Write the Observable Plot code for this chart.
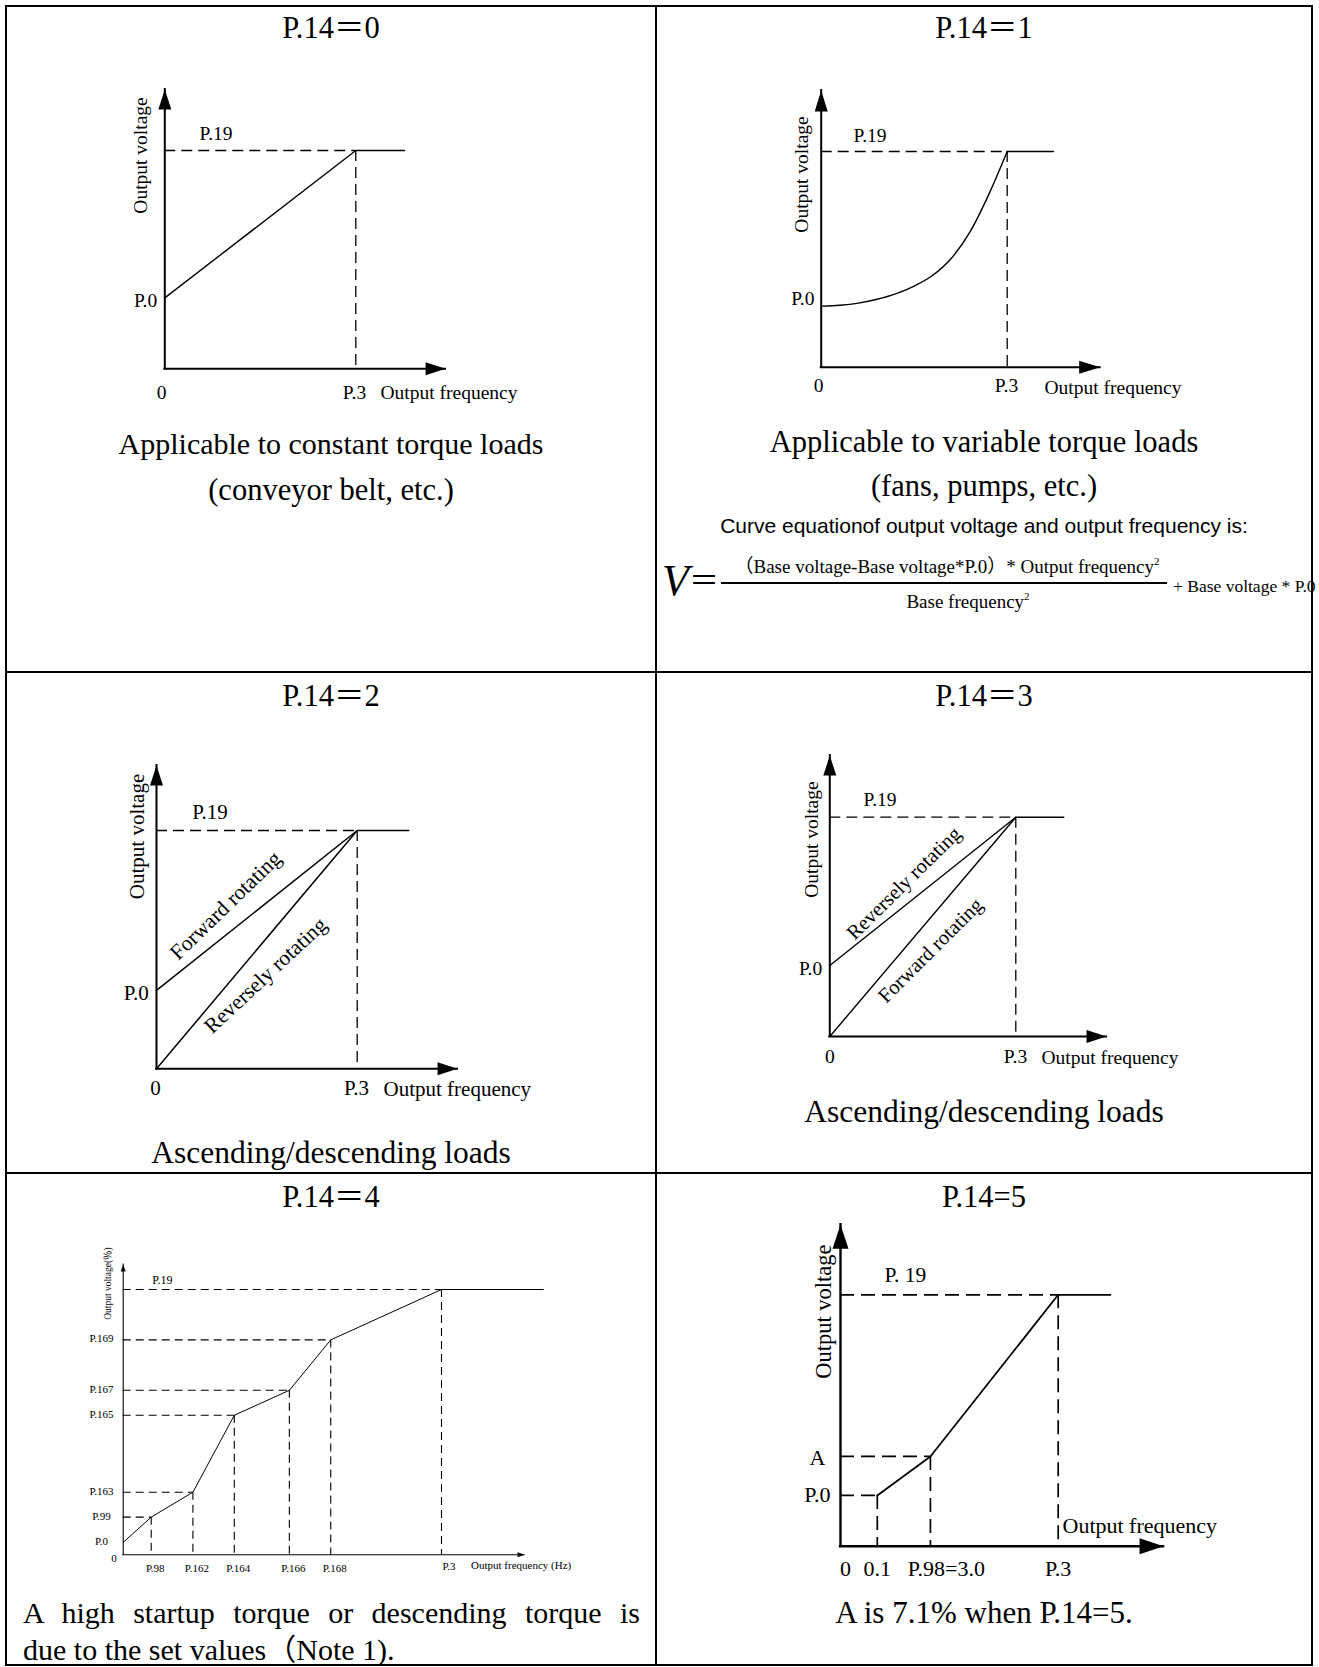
<!DOCTYPE html>
<html>
<head>
<meta charset="utf-8">
<script src="https://cdn.jsdelivr.net/npm/d3@7"></script>
<script src="https://cdn.jsdelivr.net/npm/@observablehq/plot@0.6"></script>
<style>
html, body { margin: 0; padding: 0; background: #fff; overflow: hidden; }
#page { position: relative; width: 1319px; height: 1667px; color: #000; overflow: hidden; }
.t { position: absolute; white-space: nowrap; line-height: 1.2; }
.rule { position: absolute; background: #000; }
</style>
</head>
<body>
<div id="page"></div>
<script>
// ================= DATA =================
const panelTitles = ["P.14＝0", "P.14＝1", "P.14＝2", "P.14＝3", "P.14＝4", "P.14=5"];
const captionConst = ["Applicable to constant torque loads", "(conveyor belt, etc.)"];
const captionSquare = ["Applicable to variable torque loads", "(fans, pumps, etc.)"];
const equationIntro = "Curve equationof output voltage and output frequency is:";
const equationParts = ["V", "＝", "（Base voltage-Base voltage*P.0）* Output frequency", "Base frequency", "+ Base voltage * P.0", "2"];
const captionLift = "Ascending/descending loads";
const captionMulti = ["A high startup torque or descending torque is", "due to the set values（Note 1)."];
const captionStart = "A is 7.1% when P.14=5.";

const axisNames = ["Output voltage", "Output frequency"];
const axisNamesMulti = ["Output voltage(％)", "Output frequency (Hz)"];
const originLabel = "0";
const baseFreqLabel = "P.3";
const baseVoltLabel = "P.19";
const startVoltLabel = "P.0";

// P.14=0  (frequency: P.3 = 100, voltage: P.19 = 100)
const constFreq = [0, 100, 125.5];
const constVolt = [32.5, 100, 100];
// P.14=1
const squareFreq = [0, 10, 20, 30, 40, 50, 60, 70, 80, 90, 100];
const squareVolt = [28.3, 28.7, 29.7, 31.5, 34.0, 37.6, 42.6, 50.5, 62.7, 79.9, 100];
const squareTopFreq = [100, 124.9];
const squareTopVolt = [100, 100];
// P.14=2
const liftFreq = [0, 100, 125.7];
const liftForwardVolt = [32.9, 100, 100];
const liftReverseVolt = [0, 100, 100];
const liftNotes = ["Forward rotating", "Reversely rotating"];
const liftNoteFreq = [34.4, 54.3];
const liftNoteVolt = [68.5, 39.2];
// P.14=3
const dropFreq = [0, 100, 125.8];
const dropReverseVolt = [32.4, 100, 100];
const dropForwardVolt = [0, 100, 100];
const dropNotes = ["Reversely rotating", "Forward rotating"];
const dropNoteFreq = [39.8, 54.1];
const dropNoteVolt = [69.9, 39.2];
// P.14=4
const multiFreq = [0, 8.8, 21.9, 34.9, 52.2, 65.2, 100, 132];
const multiVolt = [4.7, 14.2, 23.6, 52.6, 62.0, 81.0, 100, 100];
const multiFreqLabels = ["", "P.98", "P.162", "P.164", "P.166", "P.168", "P.3", ""];
const multiVoltLabels = ["P.0", "P.99", "P.163", "P.165", "P.167", "P.169", "P.19", ""];
// P.14=5
const startFreq = [16.9, 41.3, 100, 124];
const startVolt = [20.2, 35.7, 100, 100];
const startFreqLabels = ["0.1", "P.98=3.0", "P.3", ""];
const startVoltLabels = ["P.0", "A", "P. 19", ""];
// axis arrow extents per panel (data units)
const axisFreqMax = [147, 150, 150, 148.8, 126.1, 148.4];
const axisVoltMax = [128, 128.3, 127.3, 128.1, 109.4, 127.9];

// ================= LAYOUT / STYLE =================
const SERIF = '"Liberation Serif","Times New Roman","Noto Sans CJK SC",serif';
const SANS = '"Liberation Sans",Arial,sans-serif';
const LAYOUT = [
  {cell: [6, 6, 650, 666], origin: [164.3, 368.3], unit: [1.91, 2.183], axisW: 2, arrow: [20, 13], lineW: 1.4, dashW: 1.3, dash: "11,6", font: 19.5},
  {cell: [656, 6, 656, 666], origin: [820.7, 366.7], unit: [1.86, 2.157], axisW: 2, arrow: [21, 13], lineW: 1.4, dashW: 1.3, dash: "11,6", font: 19.5},
  {cell: [6, 672, 650, 501], origin: [156, 1068.3], unit: [2.007, 2.383], axisW: 2, arrow: [20, 13], lineW: 1.5, dashW: 1.3, dash: "11,6", font: 21},
  {cell: [656, 672, 656, 501], origin: [829.3, 1036], unit: [1.86, 2.193], axisW: 2, arrow: [20, 13], lineW: 1.4, dashW: 1.3, dash: "11,6", font: 19.5},
  {cell: [6, 1173, 650, 492], origin: [122.7, 1554.3], unit: [3.183, 2.653], axisW: 1.1, arrow: [7, 5], lineW: 1, dashW: 1.1, dash: "8,5", font: 11},
  {cell: [656, 1173, 656, 492], origin: [840, 1545.7], unit: [2.177, 2.514], axisW: 2.4, arrow: [24, 16], lineW: 1.8, dashW: 1.7, dash: "14,7", font: 22}
];
const titleY = [28.5, 28.5, 696.5, 696.5, 1197, 1197];

const page = document.getElementById("page");

// ================= helpers =================
const upArrow = (L, W) => ({draw(ctx) { ctx.moveTo(0, 0); ctx.lineTo(W / 2, L); ctx.lineTo(-W / 2, L); ctx.closePath(); }});
const rightArrow = (L, W) => ({draw(ctx) { ctx.moveTo(0, 0); ctx.lineTo(-L, W / 2); ctx.lineTo(-L, -W / 2); ctx.closePath(); }});
const pts = (F, V) => F.map((f, k) => ({f, v: V[k]}));

function axes(i) {
  const S = LAYOUT[i], fM = axisFreqMax[i], vM = axisVoltMax[i];
  return [
    Plot.ruleX([0], {y1: 0, y2: vM, stroke: "#000", strokeWidth: S.axisW, strokeLinecap: "square"}),
    Plot.ruleY([0], {x1: 0, x2: fM, stroke: "#000", strokeWidth: S.axisW, strokeLinecap: "square"}),
    Plot.dot([{f: 0, v: vM}], {x: "f", y: "v", r: 4, symbol: upArrow(S.arrow[0], S.arrow[1]), fill: "#000", stroke: "none"}),
    Plot.dot([{f: fM, v: 0}], {x: "f", y: "v", r: 4, symbol: rightArrow(S.arrow[0], S.arrow[1]), fill: "#000", stroke: "none"})
  ];
}
function solid(i, data, extra = {}) {
  return Plot.line(data, {x: "f", y: "v", stroke: "#000", strokeWidth: LAYOUT[i].lineW, ...extra});
}
function dashed(i, data) {
  const S = LAYOUT[i];
  return [
    Plot.ruleY(data, {y: "v", x1: 0, x2: "f", stroke: "#000", strokeWidth: S.dashW, strokeDasharray: S.dash}),
    Plot.ruleX(data, {x: "f", y1: "v", y2: 0, stroke: "#000", strokeWidth: S.dashW, strokeDasharray: S.dash})
  ];
}
function txt(i, text, f, v, o = {}) {
  return Plot.text([{f, v, t: text}], {x: "f", y: "v", text: "t", fill: "#000", fontFamily: SERIF, fontSize: LAYOUT[i].font, ...o});
}
function chart(i, marks) {
  const S = LAYOUT[i];
  const [cx, cy, cw, ch] = S.cell;
  const x0 = S.origin[0] - cx, y0 = S.origin[1] - cy;
  const fM = axisFreqMax[i], vM = axisVoltMax[i];
  const svg = Plot.plot({
    width: cw, height: ch,
    x: {type: "linear", domain: [0, fM], range: [x0, x0 + S.unit[0] * fM], axis: null},
    y: {type: "linear", domain: [0, vM], range: [y0, y0 - S.unit[1] * vM], axis: null},
    style: {background: "transparent", overflow: "visible"},
    marks: [...axes(i), ...marks]
  });
  svg.style.position = "absolute";
  svg.style.left = cx + "px";
  svg.style.top = cy + "px";
  page.appendChild(svg);
}
function html(content, {center, left, yc, size, sans = false, width, justify = false, lh = 1.2}) {
  const d = document.createElement("div");
  d.className = "t";
  d.style.fontFamily = sans ? SANS : SERIF;
  d.style.fontSize = size + "px";
  d.style.lineHeight = String(lh);
  const asc = sans ? 0.905 : 0.891, desc = sans ? 0.212 : 0.216, cap = sans ? 0.358 : 0.331;
  const k = (lh - asc - desc) / 2 + asc - cap;
  d.style.top = (yc - k * size) + "px";
  if (center != null) { d.style.left = (center - 600) + "px"; d.style.width = "1200px"; d.style.textAlign = "center"; }
  else { d.style.left = left + "px"; if (width) d.style.width = width + "px"; }
  if (justify) { d.style.whiteSpace = "normal"; d.style.textAlign = "justify"; d.style.textAlignLast = "justify"; }
  d.innerHTML = content;
  page.appendChild(d);
}
function rule(l, t, w, h) {
  const d = document.createElement("div");
  d.className = "rule";
  Object.assign(d.style, {left: l + "px", top: t + "px", width: w + "px", height: h + "px"});
  page.appendChild(d);
}

// ================= PANEL 0 : P.14=0 =================
{
  const i = 0, line = pts(constFreq, constVolt), top = line[1];
  chart(i, [
    ...dashed(i, [top]),
    solid(i, line),
    txt(i, baseVoltLabel, 0, top.v, {textAnchor: "start", dx: 34.7, dy: -16.7}),
    txt(i, startVoltLabel, 0, constVolt[0], {textAnchor: "end", dx: -7.6, dy: 2.6}),
    txt(i, originLabel, 0, 0, {dx: -3.3, dy: 23.5}),
    txt(i, baseFreqLabel, top.f, 0, {dx: -1.3, dy: 23.5}),
    txt(i, axisNames[1], top.f, 0, {textAnchor: "start", dx: 24.7, dy: 23.5}),
    txt(i, axisNames[0], 0, axisVoltMax[i], {rotate: -90, dx: -23.6, dy: 66.1})
  ]);
}
// ================= PANEL 1 : P.14=1 =================
{
  const i = 1, curve = pts(squareFreq, squareVolt), flat = pts(squareTopFreq, squareTopVolt), top = flat[0];
  chart(i, [
    ...dashed(i, [top]),
    solid(i, curve, {curve: "monotone-x"}),
    solid(i, flat),
    txt(i, baseVoltLabel, 0, top.v, {textAnchor: "start", dx: 32.3, dy: -16}),
    txt(i, startVoltLabel, 0, squareVolt[0], {textAnchor: "end", dx: -6.7, dy: -7.7}),
    txt(i, originLabel, 0, 0, {dx: -2.7, dy: 18.3}),
    txt(i, baseFreqLabel, top.f, 0, {dx: -0.7, dy: 18.3}),
    txt(i, axisNames[1], top.f, 0, {textAnchor: "start", dx: 37.3, dy: 20.3}),
    txt(i, axisNames[0], 0, axisVoltMax[i], {rotate: -90, dx: -19, dy: 84})
  ]);
}
// ================= PANEL 2 : P.14=2 =================
{
  const i = 2, fwd = pts(liftFreq, liftForwardVolt), rev = pts(liftFreq.slice(0, 2), liftReverseVolt.slice(0, 2)), top = fwd[1];
  chart(i, [
    ...dashed(i, [top]),
    solid(i, fwd),
    solid(i, rev),
    txt(i, liftNotes[0], liftNoteFreq[0], liftNoteVolt[0], {rotate: -44, fontSize: 21.5}),
    txt(i, liftNotes[1], liftNoteFreq[1], liftNoteVolt[1], {rotate: -43, fontSize: 21.5}),
    txt(i, baseVoltLabel, 0, top.v, {textAnchor: "start", dx: 35.7, dy: -18.3}),
    txt(i, startVoltLabel, 0, liftForwardVolt[0], {textAnchor: "end", dx: -7.7, dy: 3.3}),
    txt(i, originLabel, 0, 0, {dx: -1, dy: 19}),
    txt(i, baseFreqLabel, top.f, 0, {dx: -0.7, dy: 19}),
    txt(i, axisNames[1], top.f, 0, {textAnchor: "start", dx: 26.3, dy: 20}),
    txt(i, axisNames[0], 0, axisVoltMax[i], {rotate: -90, dx: -19.3, dy: 71})
  ]);
}
// ================= PANEL 3 : P.14=3 =================
{
  const i = 3, rev = pts(dropFreq, dropReverseVolt), fwd = pts(dropFreq.slice(0, 2), dropForwardVolt.slice(0, 2)), top = rev[1];
  chart(i, [
    ...dashed(i, [top]),
    solid(i, rev),
    solid(i, fwd),
    txt(i, dropNotes[0], dropNoteFreq[0], dropNoteVolt[0], {rotate: -44.5, fontSize: 20.5}),
    txt(i, dropNotes[1], dropNoteFreq[1], dropNoteVolt[1], {rotate: -45, fontSize: 20.5}),
    txt(i, baseVoltLabel, 0, top.v, {textAnchor: "start", dx: 33.7, dy: -17.4}),
    txt(i, startVoltLabel, 0, dropReverseVolt[0], {textAnchor: "end", dx: -7.6, dy: 3.3}),
    txt(i, originLabel, 0, 0, {dx: 0, dy: 20.5}),
    txt(i, baseFreqLabel, top.f, 0, {dx: -0.3, dy: 20}),
    txt(i, axisNames[1], top.f, 0, {textAnchor: "start", dx: 25.7, dy: 21.6}),
    txt(i, axisNames[0], 0, axisVoltMax[i], {rotate: -90, dx: -17.6, dy: 84})
  ]);
}
// ================= PANEL 4 : P.14=4 =================
{
  const i = 4, line = pts(multiFreq, multiVolt);
  const corners = line.slice(1, 7);
  const xl = line.map((d, k) => ({...d, t: multiFreqLabels[k]})).filter((d) => d.t && d.t !== baseFreqLabel);
  const yl = line.map((d, k) => ({...d, t: multiVoltLabels[k]})).filter((d) => d.t && d.t !== baseVoltLabel);
  const top = line[6];
  chart(i, [
    ...dashed(i, corners),
    solid(i, line),
    Plot.text(yl, {x: 0, y: "v", text: "t", fill: "#000", fontFamily: SERIF, fontSize: 11, dx: -21.7, dy: -1}),
    Plot.text(xl, {x: "f", y: 0, text: "t", fill: "#000", fontFamily: SERIF, fontSize: 11, dx: 4, dy: 14}),
    txt(i, originLabel, 0, 0, {dx: -9.2, dy: 4}),
    txt(i, multiFreqLabels[6], top.f, 0, {dx: 7.5, dy: 12}),
    txt(i, multiVoltLabels[6], 0, top.v, {textAnchor: "start", dx: 29, dy: -9, fontSize: 12}),
    txt(i, axisNamesMulti[1], top.f, 0, {textAnchor: "start", dx: 29.5, dy: 11, fontSize: 11}),
    txt(i, axisNamesMulti[0], 0, axisVoltMax[i], {rotate: -90, dx: -15.4, dy: 19, fontSize: 9.5})
  ]);
}
// ================= PANEL 5 : P.14=5 =================
{
  const i = 5, line = pts(startFreq, startVolt);
  const corners = line.slice(0, 3);
  const top = line[2];
  chart(i, [
    ...dashed(i, corners),
    solid(i, line),
    txt(i, startVoltLabels[2], 0, top.v, {textAnchor: "start", dx: 44, dy: -19.3, fontSize: 21.5}),
    txt(i, startVoltLabels[1], 0, line[1].v, {textAnchor: "end", dx: -15, dy: 1.3}),
    txt(i, startVoltLabels[0], 0, line[0].v, {textAnchor: "end", dx: -10, dy: 0}),
    txt(i, originLabel, 0, 0, {dx: 5, dy: 22.6}),
    txt(i, startFreqLabels[0], line[0].f, 0, {dx: 0, dy: 22.6}),
    txt(i, startFreqLabels[1], line[1].f, 0, {dx: 16, dy: 22.6}),
    txt(i, startFreqLabels[2], top.f, 0, {dx: 0, dy: 22.6}),
    txt(i, axisNames[1], top.f, 0, {textAnchor: "start", dx: 4.3, dy: -20}),
    txt(i, axisNames[0], 0, axisVoltMax[i], {rotate: -90, dx: -16.7, dy: 87, fontSize: 22.5})
  ]);
}

// ================= TITLES & CAPTIONS =================
LAYOUT.forEach((S, i) => html(panelTitles[i], {center: S.cell[0] + S.cell[2] / 2, yc: titleY[i], size: 30.5}));
html(captionConst[0], {center: 331, yc: 444, size: 30});
html(captionConst[1], {center: 331, yc: 490, size: 30.5});
html(captionSquare[0], {center: 984, yc: 442, size: 30.5});
html(captionSquare[1], {center: 984, yc: 486, size: 30.5});
html(equationIntro, {center: 984, yc: 525.5, size: 21, sans: true});
html(`<span style="font-style:italic">${equationParts[0]}</span><span style="font-size:30px;position:relative;top:-4px">${equationParts[1]}</span>`, {left: 662, yc: 582, size: 44});
html(`${equationParts[2]}<span style="font-size:11px;position:relative;top:-8px">${equationParts[5]}</span>`, {center: 947, yc: 568, size: 19});
rule(721, 582, 446, 2);
html(`${equationParts[3]}<span style="font-size:11px;position:relative;top:-8px">${equationParts[5]}</span>`, {center: 968, yc: 603, size: 19});
html(equationParts[4], {left: 1173, yc: 587, size: 17.5});
html(captionLift, {center: 331, yc: 1153, size: 31.5});
html(captionLift, {center: 984, yc: 1112.5, size: 31.5});
html(captionMulti[0], {left: 23, width: 617, yc: 1613, size: 30, justify: true});
html(captionMulti[1], {left: 23, yc: 1650, size: 30, lh: 1.0});
html(captionStart, {center: 984, yc: 1613, size: 31});

// ================= TABLE BORDERS =================
rule(5, 5, 1308, 2);
rule(5, 1664, 1308, 2);
rule(5, 5, 2, 1661);
rule(1311, 5, 2, 1661);
rule(655, 5, 2, 1661);
rule(5, 671, 1308, 2);
rule(5, 1172, 1308, 2);
</script>
</body>
</html>
